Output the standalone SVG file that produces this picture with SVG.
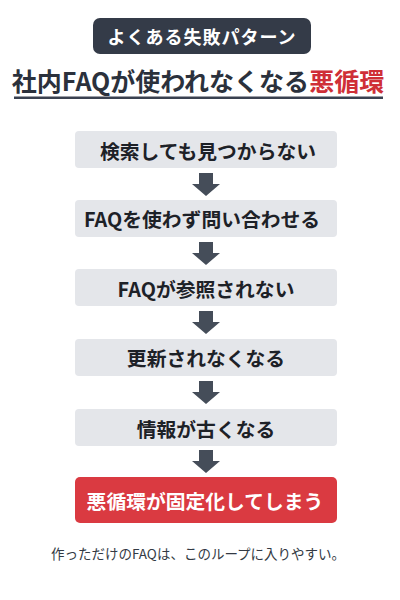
<svg xmlns="http://www.w3.org/2000/svg" width="400" height="600" viewBox="0 0 400 600">
<style>
text{font-family:"Noto Sans CJK JP","Noto Sans",sans-serif;text-anchor:middle;dominant-baseline:central}
.box{fill:#e4e6ea}
.lbl{font-size:19.8px;font-weight:700;fill:#1d2127}
.arr{fill:#454d59}
</style>
<rect width="400" height="600" fill="#ffffff"/>
<g id="badge">
<rect x="93" y="18" width="218" height="36" rx="7" fill="#343b48"/>
<text x="202" y="36" font-size="18" font-weight="700" fill="#ffffff" letter-spacing="1">よくある失敗パターン</text>
</g>
<g id="title">
<text x="198" y="80" font-size="25" font-weight="700" fill="#2b313c">社内FAQが使われなくなる<tspan fill="#cf2f37">悪循環</tspan></text>
<rect x="14" y="96.5" width="369" height="2.5" fill="#3a4150"/>
</g>
<g id="connectors">
<path class="arr" d="M199 173H213V184H220L206 196L192 184H199Z"/>
<path class="arr" d="M199 242H213V253H220L206 265L192 253H199Z"/>
<path class="arr" d="M199 311H213V322H220L206 334L192 322H199Z"/>
<path class="arr" d="M199 381H213V392H220L206 404L192 392H199Z"/>
<path class="arr" d="M199 450H213V461H220L206 473L192 461H199Z"/>
</g>
<g id="n1"><rect class="box" x="75" y="131" width="262" height="37" rx="4"/><text class="lbl" x="208" y="150">検索しても見つからない</text></g>
<g id="n2"><rect class="box" x="75" y="200" width="262" height="37" rx="4"/><text class="lbl" x="202" y="218">FAQを使わず問い合わせる</text></g>
<g id="n3"><rect class="box" x="75" y="269" width="262" height="37" rx="4"/><text class="lbl" x="206" y="288">FAQが参照されない</text></g>
<g id="n4"><rect class="box" x="75" y="339" width="262" height="37" rx="4"/><text class="lbl" x="206" y="357">更新されなくなる</text></g>
<g id="n5"><rect class="box" x="75" y="409" width="262" height="37" rx="4"/><text class="lbl" x="206" y="428">情報が古くなる</text></g>
<g id="n6"><rect x="75" y="477" width="262" height="46" rx="5" fill="#da3a41"/><text x="205" y="500" font-size="19.8" font-weight="700" fill="#ffffff">悪循環が固定化してしまう</text></g>
<g id="footer">
<text x="198" y="553" font-size="13.5" fill="#333a44">作っただけのFAQは、このループに入りやすい。</text>
</g>
</svg>
